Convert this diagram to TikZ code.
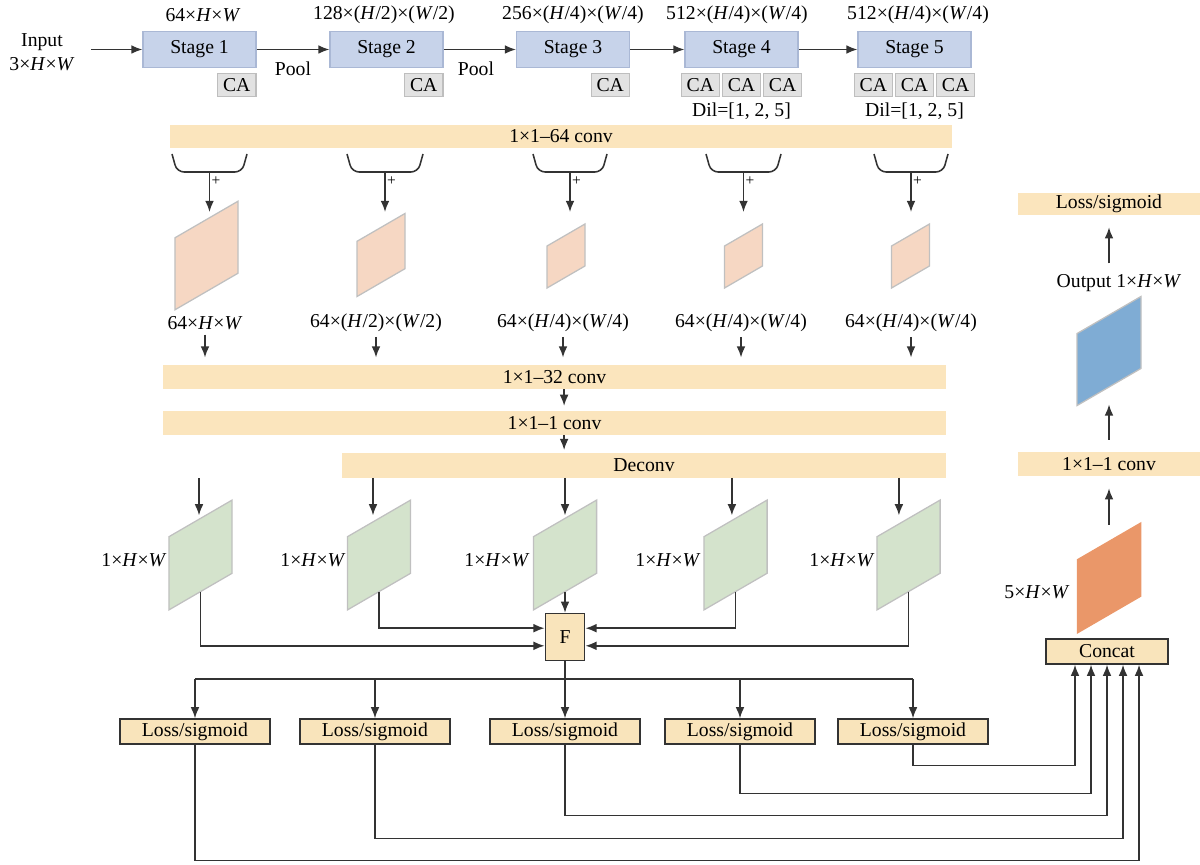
\documentclass[tikz,border=0pt]{standalone}
\usepackage{fontspec}
\setmainfont{Liberation Serif}
\usepackage{tikz}
\usetikzlibrary{arrows.meta,positioning}
\definecolor{stagebg}{HTML}{C7D3EA}
\definecolor{stageline}{HTML}{AAB8D5}
\definecolor{cabg}{HTML}{E2E2E2}
\definecolor{caline}{HTML}{BEBEBE}
\definecolor{convbg}{HTML}{FBE5BD}
\definecolor{lossbg}{HTML}{F9E4BB}
\definecolor{inkline}{HTML}{333333}
\definecolor{pinkmap}{HTML}{F6D7C3}
\definecolor{greenmap}{HTML}{D4E3CC}
\definecolor{bluemap}{HTML}{7FACD4}
\definecolor{orangemap}{HTML}{EA9769}
\definecolor{mapline}{HTML}{C0C0C0}

\begin{document}
\begin{tikzpicture}[x=0.025cm,y=-0.025cm,font=\fontsize{14}{17}\selectfont,
    stagebox/.style={draw=stageline,line width=0.9pt,fill=stagebg,minimum width=2.82cm,minimum height=0.9cm,inner sep=0pt},
    cabox/.style={draw=caline,line width=0.8pt,fill=cabg,minimum width=0.96cm,minimum height=0.56cm,inner sep=0pt},
    convbar/.style={fill=convbg,inner sep=0pt,minimum height=0.6cm},
    lossbox/.style={draw=inkline,line width=1.1pt,fill=lossbg,minimum width=3.75cm,minimum height=0.62cm,inner sep=0pt},
    fmap/.style={draw=mapline,line width=0.9pt,yslant=0.58,transform shape,inner sep=0pt},
    arr/.style={-{Latex[length=2.8mm,width=2.2mm]},draw=inkline,line width=1.1pt},
    wire/.style={draw=inkline,line width=1.1pt},
    plus/.style={font=\fontsize{11}{13}\selectfont,inner sep=1pt}]
    \useasboundingbox (0,0) rectangle (1200,865);

    \node (in) [align=center] at (42,52) {Input\\3×\textit{H}×\textit{W}};
    \node (s1) [stagebox] at (199.5,49.5) {Stage 1};
    \node (s2) [stagebox] at (386.5,49.5) {Stage 2};
    \node (s3) [stagebox] at (573,49.5) {Stage 3};
    \node (s4) [stagebox] at (741.5,49.5) {Stage 4};
    \node (s5) [stagebox] at (914.5,49.5) {Stage 5};
    \node (d1) at (203,15) {64×\textit{H}×\textit{W}};
    \node (d2) at (384,15) {128×(\textit{H}/2)×(\textit{W}/2)};
    \node (d3) at (573,15) {256×(\textit{H}/4)×(\textit{W}/4)};
    \node (d4) at (737,15) {512×(\textit{H}/4)×(\textit{W}/4)};
    \node (d5) at (918,15) {512×(\textit{H}/4)×(\textit{W}/4)};
    \draw[arr,shorten <=0.3cm] (in.east |- s1) -- (s1);
    \draw[arr] (s1) -- (s2);
    \draw[arr] (s2) -- (s3);
    \draw[arr] (s3) -- (s4);
    \draw[arr] (s4) -- (s5);
    \node (pool1) at (293,69) {Pool};
    \node (pool2) at (476,69) {Pool};

    \node (ca1) [cabox,below left=0.13cm and 0cm of s1.south east] {CA};
    \node (ca2) [cabox,below left=0.13cm and 0cm of s2.south east] {CA};
    \node (ca3) [cabox,below left=0.13cm and 0cm of s3.south east] {CA};
    \node (ca4b) [cabox,below=0.13cm of s4] {CA};
    \node (ca4a) [cabox,left=0.04cm of ca4b] {CA};
    \node (ca4c) [cabox,right=0.04cm of ca4b] {CA};
    \node (ca5b) [cabox,below=0.13cm of s5] {CA};
    \node (ca5a) [cabox,left=0.04cm of ca5b] {CA};
    \node (ca5c) [cabox,right=0.04cm of ca5b] {CA};
    \node (dil4) [below=0.02cm of ca4b] {Dil=[1, 2, 5]};
    \node (dil5) [below=0.02cm of ca5b] {Dil=[1, 2, 5]};

    \node (conv64) [convbar,minimum width=19.55cm,minimum height=0.58cm] at (561,136.5) {1×1–64 conv};
    \draw[wire,rounded corners=5pt] (172,154) -- (177,172) -- (242,172) -- (247,154);
    \draw[wire,rounded corners=5pt] (347,154) -- (352,172) -- (418,172) -- (423,154);
    \draw[wire,rounded corners=5pt] (533,154) -- (538,172) -- (602,172) -- (607,154);
    \draw[wire,rounded corners=5pt] (706,154) -- (711,172) -- (776,172) -- (781,154);
    \draw[wire,rounded corners=5pt] (874,154) -- (879,172) -- (943,172) -- (948,154);
    \coordinate (j1) at (209.5,172);
    \coordinate (j2) at (385,172);
    \coordinate (j3) at (570,172);
    \coordinate (j4) at (743.5,172);
    \coordinate (j5) at (911,172);
    \coordinate (tips) at (0,212);
    \draw[arr] (j1) -- (j1 |- tips) node[plus,pos=0.22,right] {+};
    \draw[arr] (j2) -- (j2 |- tips) node[plus,pos=0.22,right] {+};
    \draw[arr] (j3) -- (j3 |- tips) node[plus,pos=0.22,right] {+};
    \draw[arr] (j4) -- (j4 |- tips) node[plus,pos=0.22,right] {+};
    \draw[arr] (j5) -- (j5 |- tips) node[plus,pos=0.22,right] {+};

    \node (p1) [fmap,fill=pinkmap,minimum width=1.58cm,minimum height=1.8cm] at (206.5,255.5) {};
    \node (p2) [fmap,fill=pinkmap,minimum width=1.2cm,minimum height=1.38cm] at (381,255) {};
    \node (p3) [fmap,fill=pinkmap,minimum width=0.95cm,minimum height=1.05cm] at (566,256) {};
    \node (p4) [fmap,fill=pinkmap,minimum width=0.95cm,minimum height=1.05cm] at (743.5,256) {};
    \node (p5) [fmap,fill=pinkmap,minimum width=0.95cm,minimum height=1.05cm] at (910.5,256) {};
    \node (l1) at (205,323) {64×\textit{H}×\textit{W}};
    \node (l2) at (376,323) {64×(\textit{H}/2)×(\textit{W}/2)};
    \node (l3) at (563,323) {64×(\textit{H}/4)×(\textit{W}/4)};
    \node (l4) at (741,323) {64×(\textit{H}/4)×(\textit{W}/4)};
    \node (l5) at (911,323) {64×(\textit{H}/4)×(\textit{W}/4)};

    \node (conv32) [convbar,minimum width=19.58cm] at (554.5,377) {1×1–32 conv};
    \node (conv1) [convbar,minimum width=19.58cm] at (554.5,423) {1×1–1 conv};
    \node (deconv) [convbar,minimum width=15.1cm] at (644,465.5) {Deconv};
    \draw[arr,shorten >=0.18cm] (l1.south) -- (l1.south |- conv32.north);
    \draw[arr,shorten >=0.18cm] (l2.south) -- (l2.south |- conv32.north);
    \draw[arr,shorten >=0.18cm] (l3.south) -- (l3.south |- conv32.north);
    \draw[arr,shorten >=0.18cm] (l4.south) -- (l4.south |- conv32.north);
    \draw[arr,shorten >=0.18cm] (l5.south) -- (l5.south |- conv32.north);
    \draw[arr,shorten >=0.12cm] ([xshift=0.24cm]conv32.south) -- ([xshift=0.24cm]conv1.north);
    \draw[arr,shorten >=0.08cm] ([xshift=0.24cm]conv1.south) -- ([xshift=0.24cm]conv1.south |- deconv.north);

    \node (g1) [fmap,fill=greenmap,minimum width=1.58cm,minimum height=1.83cm] at (200.5,555) {};
    \node (g2) [fmap,fill=greenmap,minimum width=1.58cm,minimum height=1.83cm] at (379,555) {};
    \node (g3) [fmap,fill=greenmap,minimum width=1.58cm,minimum height=1.83cm] at (565,555) {};
    \node (g4) [fmap,fill=greenmap,minimum width=1.58cm,minimum height=1.83cm] at (735.5,555) {};
    \node (g5) [fmap,fill=greenmap,minimum width=1.58cm,minimum height=1.83cm] at (908.5,555) {};
    \node (lg1) at (134,560) {1×\textit{H}×\textit{W}};
    \node (lg2) at (313,560) {1×\textit{H}×\textit{W}};
    \node (lg3) at (497,560) {1×\textit{H}×\textit{W}};
    \node (lg4) at (668,560) {1×\textit{H}×\textit{W}};
    \node (lg5) at (842,560) {1×\textit{H}×\textit{W}};
    \coordinate (d1) at (199,478);
    \draw[arr,shorten >=0.06cm] (d1) -- (d1 |- g1.north);
    \draw[arr,shorten >=0.06cm] ([xshift=-0.15cm]g2.north |- deconv.south) -- ([xshift=-0.15cm]g2.north);
    \draw[arr,shorten >=0.06cm] (g3.north |- deconv.south) -- (g3.north);
    \draw[arr,shorten >=0.06cm] ([xshift=-0.09cm]g4.north |- deconv.south) -- ([xshift=-0.09cm]g4.north);
    \draw[arr,shorten >=0.06cm] ([xshift=-0.24cm]g5.north |- deconv.south) -- ([xshift=-0.24cm]g5.north);

    \node (fbox) [draw=inkline,line width=1.1pt,fill=lossbg,minimum width=0.98cm,minimum height=1.17cm,inner sep=0pt] at (565,637) {F};
    \draw[arr] (g1.south) |- ([yshift=-0.22cm]fbox.west);
    \draw[arr] (g2.south) |- ([yshift=0.22cm]fbox.west);
    \draw[arr] (g3.south) -- (fbox.north);
    \draw[arr] (g4.south) |- ([yshift=0.22cm]fbox.east);
    \draw[arr] (g5.south) |- ([yshift=-0.22cm]fbox.east);

    \node (ls1) [lossbox] at (195,731.5) {Loss/sigmoid};
    \node (ls2) [lossbox] at (375,731.5) {Loss/sigmoid};
    \node (ls3) [lossbox] at (565,731.5) {Loss/sigmoid};
    \node (ls4) [lossbox] at (740,731.5) {Loss/sigmoid};
    \node (ls5) [lossbox] at (913,731.5) {Loss/sigmoid};
    \coordinate (fan) at (565,679);
    \draw[wire] (fan -| ls1) -- (fan -| ls5);
    \draw[arr] (fan -| ls1) -- (ls1.north);
    \draw[arr] (fan -| ls2) -- (ls2.north);
    \draw[arr] (fbox.south) -- (ls3.north);
    \draw[arr] (fan -| ls4) -- (ls4.north);
    \draw[arr] (fan -| ls5) -- (ls5.north);

    \node (concat) [lossbox,minimum width=3.05cm] at (1107,651.5) {Concat};
    \draw[arr] (ls5.south) -- ++(0,21) -| ([xshift=-0.8cm]concat.south);
    \draw[arr] (ls4.south) -- ++(0,49) -| ([xshift=-0.4cm]concat.south);
    \draw[arr] (ls3.south) -- ++(0,71) -| (concat.south);
    \draw[arr] (ls2.south) -- ++(0,94) -| ([xshift=0.4cm]concat.south);
    \draw[arr] (ls1.south) -- ++(0,116) -| ([xshift=0.8cm]concat.south);

    \node (o5) [fmap,fill=orangemap,draw=orangemap,minimum width=1.58cm,minimum height=1.83cm] at (1109,578) {};
    \node (lo5) at (1037,592) {5×\textit{H}×\textit{W}};
    \node (convr) [convbar,minimum width=4.55cm] at (1109,464) {1×1–1 conv};
    \node (blue) [fmap,fill=bluemap,minimum width=1.6cm,minimum height=1.8cm] at (1109,351) {};
    \node (outl) at (1119,283) {Output 1×\textit{H}×\textit{W}};
    \node (lossr) [convbar,minimum width=4.55cm,minimum height=0.55cm] at (1109,204) {Loss/sigmoid};
    \draw[arr,shorten >=0.3cm] ([yshift=0.4cm]o5.north) -- (convr.south);
    \draw[arr,shorten <=0.3cm,shorten >=0.42cm] (convr.north) -- (blue.south);
    \draw[arr,shorten <=0.15cm,shorten >=0.3cm] (outl.north -| lossr.south) -- (lossr.south);
  \end{tikzpicture}
\end{document}
